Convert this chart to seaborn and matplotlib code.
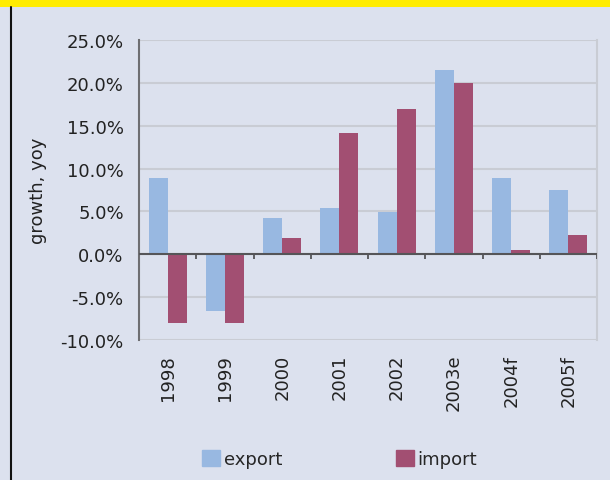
import matplotlib
matplotlib.use("Agg")
import matplotlib.pyplot as plt
import matplotlib.patches as mpatches
import numpy as np
import pandas as pd
import seaborn as sns

# growth, yoy (%)
years = ["1998", "1999", "2000", "2001", "2002", "2003e", "2004f", "2005f"]
export = [8.9, -6.6, 4.2, 5.4, 4.9, 21.5, 8.9, 7.5]
imports = [-8.0, -8.0, 1.9, 14.2, 17.0, 20.0, 0.5, 2.3]

series = ["export", "import"]
colors = ["#98b8e1", "#a24f72"]
bg = "#dce1ee"

df = pd.DataFrame({"year": years * 2,
                   "growth": export + imports,
                   "series": ["export"] * len(years) + ["import"] * len(years)})

sns.set_style("white")
plt.rcParams["font.family"] = ["DejaVu Sans"]
fs = 13

fig = plt.figure(figsize=(6.1, 4.81), dpi=100)
fig.patch.set_facecolor(bg)
ax = fig.add_axes([0.2279, 0.2911, 0.7508, 0.6237])
ax.set_facecolor(bg)

sns.barplot(data=df, x="year", y="growth", hue="series", order=years,
            hue_order=series, palette=colors, width=0.66, saturation=1,
            linewidth=0, ax=ax, legend=False)

ax.set_ylim(-10, 25)
ax.set_xlim(-0.5, len(years) - 0.5)
ax.set_yticks(np.arange(-10, 26, 5))
ax.set_yticklabels([f"{v:.1f}%" for v in np.arange(-10, 26, 5)])
ax.yaxis.grid(True, color="#c9ccd4", linewidth=1.5)
ax.set_axisbelow(True)

for s in ["top", "bottom"]:
    ax.spines[s].set_visible(False)
ax.spines["right"].set_color("#c9ccd4")
ax.spines["right"].set_linewidth(1.5)
ax.spines["left"].set_color("#6e6e72")
ax.spines["left"].set_linewidth(1.5)

ax.tick_params(axis="y", direction="out", length=5, width=1.2, color="#6e6e72",
               labelsize=fs, labelcolor="#222222", pad=6)
ax.tick_params(axis="x", length=0, labelsize=fs, labelcolor="#222222",
               labelrotation=90, pad=10)

# category axis at zero with boundary tick marks
ax.axhline(0, color="#555558", linewidth=1.5, zorder=3)
ax.vlines(np.arange(0.5, len(years), 1.0), -0.55, 0, color="#555558",
          linewidth=1.3, zorder=3)

ax.set_xlabel("")
ax.set_ylabel("growth, yoy", fontsize=fs, color="#222222", labelpad=10)

# banner and left rule
fig.patches.append(mpatches.Rectangle((0, 1 - 8 / 481), 1, 8 / 481,
                                      transform=fig.transFigure,
                                      facecolor="#ffec00", edgecolor="none"))
fig.lines.append(plt.Line2D([11 / 610, 11 / 610], [0, 1 - 8 / 481],
                            transform=fig.transFigure, color="#111111",
                            linewidth=1.5))

handles = [mpatches.Patch(color=c, label=s) for c, s in zip(colors, series)]
fig.legend(handles=handles, loc="center", bbox_to_anchor=(0.557, 0.044),
           ncol=2, frameon=False, fontsize=fs, handlelength=1.0,
           handleheight=1.0, handletextpad=0.2, columnspacing=6.3)

fig.savefig("out.png", dpi=100, facecolor=bg)
